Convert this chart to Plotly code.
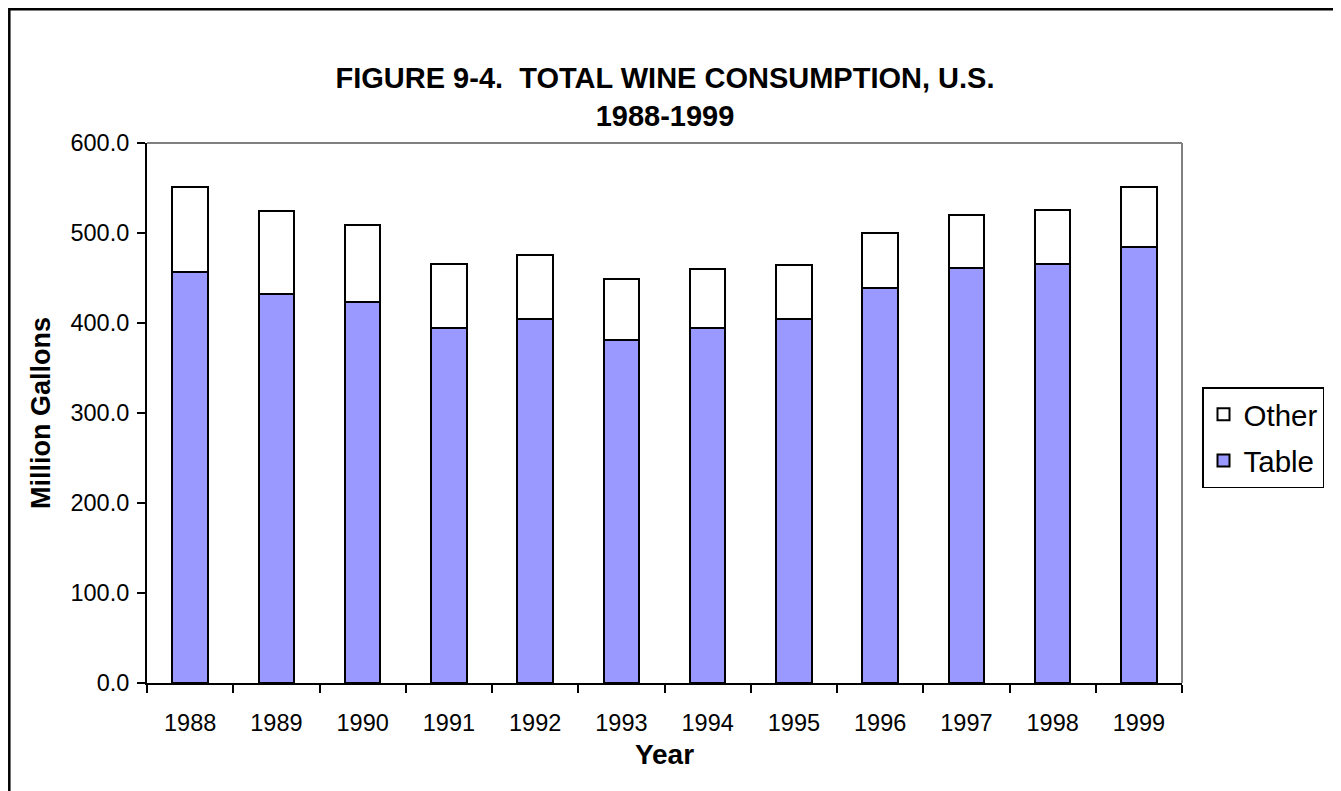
import plotly.graph_objects as go

years = ["1988", "1989", "1990", "1991", "1992", "1993", "1994", "1995", "1996", "1997", "1998", "1999"]
table = [457.0, 432.0, 423.0, 394.0, 405.0, 381.0, 395.0, 404.0, 439.0, 461.0, 466.0, 484.0]
other = [94.0, 92.5, 86.0, 72.0, 71.0, 68.0, 64.5, 60.0, 61.0, 58.5, 60.0, 67.0]
y_ticks = [0, 100, 200, 300, 400, 500, 600]

FONT = "Arial, 'Liberation Sans', sans-serif"

# The page body has an 8px margin, so figure coordinates = page coordinates - 8
OFF = 8
W, H = 1341 - OFF, 791 - OFF
L, R, T, B = 147 - OFF, 1182 - OFF, 143 - OFF, 683 - OFF
pw, ph = R - L, B - T


def px(x):
    return (x - OFF - L) / pw


def py(y):
    return (B - (y - OFF)) / ph


def fx(x):  # figure-pixel x -> paper
    return (x - L) / pw


def fy(y):  # figure-pixel y -> paper
    return (B - y) / ph


fig = go.Figure()
fig.add_trace(go.Bar(
    x=years, y=table, name="Table",
    marker=dict(color="#9999FF", line=dict(color="black", width=2)),
    legendrank=2, legendgroup="table",
))
fig.add_trace(go.Bar(
    x=years, y=other, name="Other",
    marker=dict(color="white", line=dict(color="black", width=2)),
    legendrank=1, legendgroup="other",
))

fig.update_layout(
    width=W, height=H,
    margin=dict(l=L, r=W - R, t=T, b=H - B, pad=0),
    paper_bgcolor="white", plot_bgcolor="white",
    barmode="stack", bargap=0.59,
    font=dict(family=FONT, color="black", size=23.5),
    title=dict(
        text="<b>FIGURE 9-4.\u00a0 TOTAL WINE CONSUMPTION, U.S.<br>1988-1999</b>",
        x=px(665), xanchor="center", xref="paper",
        y=1 - 80 / H, yanchor="middle", yref="container",
        font=dict(size=29, family=FONT, color="black"),
    ),
    legend=dict(
        x=px(1202), y=py(387), xanchor="left", yanchor="top",
        bordercolor="black", borderwidth=1.5, bgcolor="white",
        font=dict(size=29.5, family=FONT, color="black"),
        traceorder="grouped", tracegroupgap=5,
        itemwidth=30,
    ),
    showlegend=True,
    xaxis=dict(
        type="category",
        showline=True, linecolor="black", linewidth=2,
        ticks="outside", ticklen=8, tickwidth=2, tickcolor="black",
        tickson="boundaries",
        showgrid=False, zeroline=False,
        title=dict(text="<b>Year</b>", font=dict(size=28, family=FONT), standoff=9),
        tickfont=dict(size=23.5, family=FONT),
        ticklabelstandoff=18,
    ),
    yaxis=dict(
        range=[0, 600], tickvals=y_ticks, tickformat=".1f",
        showline=True, linecolor="black", linewidth=2,
        ticks="outside", ticklen=8, tickwidth=2, tickcolor="black",
        showgrid=False, zeroline=False,
        title=dict(text="<b>Million Gallons</b>", font=dict(size=27, family=FONT), standoff=12),
        tickfont=dict(size=23.5, family=FONT),
        ticklabelstandoff=3,
    ),
    shapes=[
        # gray top and right frame of plot area
        dict(type="line", xref="paper", yref="paper", x0=0, x1=1, y0=1, y1=1,
             line=dict(color="#808080", width=2)),
        dict(type="line", xref="paper", yref="paper", x0=1, x1=1, y0=0, y1=1,
             line=dict(color="#808080", width=2)),
        # outer chart border (right and bottom edges fall outside the page)
        dict(type="rect", xref="paper", yref="paper",
             x0=fx(1.3), x1=fx(W + 20), y0=fy(H + 20), y1=fy(1.3),
             line=dict(color="black", width=2.5), layer="below"),
    ],
)

fig.write_html("out.html")
